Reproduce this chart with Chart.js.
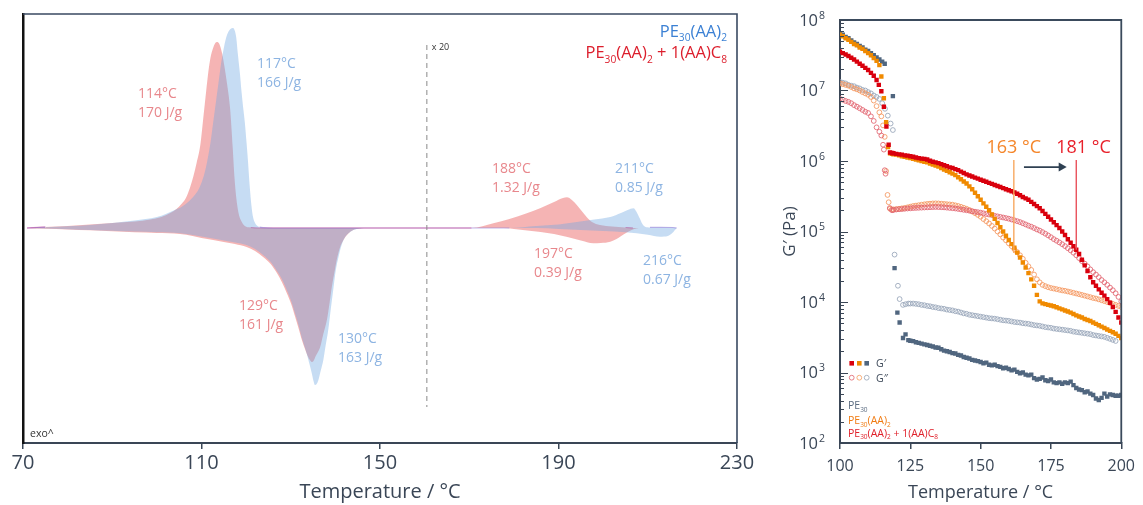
<!DOCTYPE html>
<html><head><meta charset="utf-8">
<script src="https://cdn.jsdelivr.net/npm/chart.js@4.4.1/dist/chart.umd.min.js"></script>
<style>
html,body{margin:0;padding:0;background:#fff;}
#wrap{position:relative;width:1143px;height:505px;overflow:hidden;}
canvas{position:absolute;top:0;}
</style></head><body>
<div id="wrap">
<canvas id="c1" width="760" height="505" style="left:0;width:760px;height:505px"></canvas>
<canvas id="c2" width="383" height="505" style="left:760px;width:383px;height:505px"></canvas>
</div>
<script>
const FAM = "'Open Sans', 'DejaVu Sans', sans-serif";
const AXIS = '#3a4656';

/* ---------- DSC (left) ---------- */
const dscXTicks = [70, 110, 150, 190, 230];
const blueExoT = [70.9,75,80,85,90,95,100,102,104,105.5,107,108.5,109.5,110.5,111.2,112,112.6,113.2,113.8,114.4,115,115.5,116,116.5,117,117.4,117.8,118.1,118.6,119,119.4,119.7,120.1,120.4,120.8,121.2,121.5,121.9,122.3,123,124,126,160,175,179,185,190,194.1,198,201.6,204,205.5,206.8,207.5,208.2,208.8,209.4,210.5,215.6,216.5];
const blueExoY = [0,0.8,1.8,3,5,7.5,11,14,18,21,26,33,40,52,65,85,105,125,145,165,180,190,196,199,200,198,190,176,155,135,118,106,85,68,42,22,12,6,3,1,0.3,0,0,0,0,2,3.5,6,8.5,11,15,18,19.7,16,9.7,4,1.3,0.6,0.5,0];
const blueEndoT = [70.9,75,80,85,90,95,100,105.2,108,110,112.6,115,117.5,120.1,122,123.8,125.5,126.9,128,129.1,130.1,131,131.8,132.5,133.2,133.9,134.7,135.1,135.4,135.8,136.2,136.7,137.3,137.8,138.4,139,139.6,140.1,140.7,141.4,142.2,143.3,144.8,147,185,190,195,200,205,207.5,210,212.8,214.5,215.5,216.5];
const blueEndoY = [0,-0.6,-1.2,-2,-2.8,-3.6,-4.3,-5.3,-7,-8.5,-10.5,-12.5,-14.5,-17,-21,-27,-34,-43,-51,-62,-73,-86,-98,-110,-120,-131,-145,-153,-157,-156,-152,-143,-132,-118,-102,-80,-59,-42,-29,-17,-9,-4,-1,0,0,-1,-2,-3,-4.3,-5.3,-6.8,-8.7,-8,-5,0];
const redExoT = [70.9,75,80,85,90,95,98.5,101,103,104.4,105.5,106.5,107.4,108.2,108.9,109.7,110.4,111,111.5,112,112.6,113.1,113.5,114,114.6,115.2,115.7,116.4,117,117.4,117.8,118.3,118.8,119.7,121,123,170.5,175.4,179,182.9,186,189,191,191.9,193,194.1,195.2,196.3,197.5,199.3,202,205,206.7];
const redExoY = [0,1,2,3.5,5,6.5,8.5,11,15,19,24,30,40,52,65,82,110,135,155,170,180,185,186,184,175,160,145,120,80,50,30,15,8,2,0.5,0,0,4.7,9,14.7,20,26,30,30.7,28,23,17,11,6,3,1.5,0.5,0];
const redEndoT = [70.9,75,80,85,90,95,100,105.2,108,110,112.6,115,117.5,120.1,122,123.8,125.5,126.9,128,129.1,130.1,131,131.8,132.5,133.2,133.9,134.3,134.7,135.1,135.6,136.1,136.6,137.3,138.1,138.7,139.2,139.8,140.3,141,141.8,142.8,144,145.5,147,177.6,180,183,186,189,192,195,197.8,199.5,201.6,203,203.8,205.5,206.8,208];
const redEndoY = [0,-0.8,-1.5,-2.3,-3.3,-4.3,-5,-6,-8,-10,-12,-14,-16,-19,-23,-29,-36,-45,-54,-65,-76,-89,-101,-112,-121,-129,-132,-134,-133,-128,-124,-119,-106,-92,-75,-59,-44,-32,-20,-12,-6,-2,-0.5,0,0,-1,-2.5,-4,-6,-9,-12.5,-15.3,-15,-13.7,-11,-8.7,-4,-1.3,0];

const noteLine1 = ['117°C','114°C','129°C','130°C','188°C','211°C','197°C','216°C'];
const noteLine2 = ['166 J/g','170 J/g','161 J/g','163 J/g','1.32 J/g','0.85 J/g','0.39 J/g','0.67 J/g'];
const noteT = [122.44, 95.77, 118.40, 140.59, 175.10, 202.66, 184.51, 208.94];
const noteV = [164, 134, -78, -111, 59, 59, -26, -33];
const noteSeries = ['b','r','r','b','r','b','r','b'];
const dscLegend = ['PE_{30}(AA)_{2}', 'PE_{30}(AA)_{2} + 1(AA)C_{8}'];
const zoomT = 160.5, zoomTop = 183, zoomBottom = -179;

/* ---------- Rheology (right) ---------- */
const gXTicks = [100, 125, 150, 175, 200];
const gMajor = [1e2, 1e3, 1e4, 1e5, 1e6, 1e7, 1e8];
const gTickExp = ['2','3','4','5','6','7','8'];
const T_PLAT = [120,121,122,123,124,125,126,127,128,129,130,131,132,133,134,135,136,137,138,139,140,141,142,143,144,145,146,147,148,149,150,151,152,153,154,155,156,157,158,159,160,161,162,163,164,165,166,167,168,169,170,171,172,173,174,175,176,177,178,179,180,181,182,183,184,185,186,187,188,189,190,191,192,193,194,195,196,197,198,199,200];

// PE30(AA)2 + 1(AA)C8, G'
const c8GpT = [100,101,102,103,104,105,106,107,108,109,110,111,112,113,113.8,114.7,115.6,116.5,117.3,117.8,118.5,119];
const c8Gp = [3.55e7,3.39e7,3.24e7,3.09e7,2.92e7,2.75e7,2.57e7,2.4e7,2.24e7,2.09e7,1.95e7,1.78e7,1.62e7,1.41e7,1.2e7,9.77e6,5.89e6,3.09e6,1.7e6,1.32e6,1.3e6,1.29e6];
const c8GpPlat = [1.26e6,1.24e6,1.23e6,1.2e6,1.19e6,1.17e6,1.15e6,1.12e6,1.1e6,1.08e6,1.07e6,
 1.05e6,1.01e6,9.77e5,9.55e5,9.33e5, 9.02e5,8.71e5,8.41e5,8.13e5,7.94e5, 7.67e5,7.41e5,7.08e5,6.76e5,6.46e5,
 6.24e5,6.03e5,5.82e5,5.62e5,5.43e5, 5.25e5,5.07e5,4.9e5,4.73e5,4.57e5, 4.42e5,4.27e5,4.12e5,3.98e5,3.85e5,
 3.72e5,3.59e5,3.43e5,3.27e5,3.09e5, 2.95e5,2.82e5,2.63e5,2.45e5,2.29e5, 2.14e5,1.95e5,1.78e5,1.62e5,1.48e5,
 1.35e5,1.23e5,1.12e5,1.0e5,8.91e4, 7.76e4,6.92e4,6.17e4,5.5e4,4.79e4, 3.98e4,3.31e4,2.75e4,2.24e4,1.91e4,
 1.7e4,1.51e4,1.35e4,1.23e4,1.1e4, 9.77e3,8.51e3,7.24e3,6.03e3,5.13e3];
// PE30(AA)2, G'
const aaGpT = [100,101,102,103,104,105,106,107,108,109,110,111,112,113,114,114.7,115.6,116.4,117.1,117.8,118.5,119];
const aaGp = [6.17e7,5.89e7,5.5e7,5.25e7,4.9e7,4.57e7,4.37e7,4.07e7,3.89e7,3.63e7,3.39e7,3.16e7,2.88e7,2.63e7,2.29e7,1.58e7,7.76e6,3.55e6,1.58e6,1.29e6,1.26e6,1.24e6];
const aaGpPlat = [1.23e6,1.2e6,1.17e6,1.15e6,1.12e6,1.1e6,1.07e6,1.05e6,1.02e6,1.0e6,9.77e5,
 9.55e5,9.23e5,8.91e5,8.61e5,8.32e5, 7.94e5,7.59e5,7.24e5,6.92e5,6.61e5, 6.31e5,5.89e5,5.5e5,5.13e5,4.79e5,
 4.37e5,3.98e5,3.55e5,3.16e5,2.82e5, 2.51e5,2.24e5,2.0e5,1.74e5,1.51e5, 1.32e5,1.15e5,1.0e5,8.71e4,7.59e4,
 6.61e4,5.89e4,5.01e4,4.27e4,3.63e4, 3.09e4,2.57e4,2.09e4,1.7e4,1.26e4, 1.02e4,9.55e3,9.33e3,9.12e3,8.91e3,
 8.71e3,8.41e3,8.13e3,7.85e3,7.59e3, 7.33e3,7.08e3,6.76e3,6.46e3,6.24e3, 6.03e3,5.75e3,5.56e3,5.37e3,5.13e3,
 4.9e3,4.68e3,4.47e3,4.27e3,4.07e3, 3.89e3,3.72e3,3.55e3,3.31e3,3.09e3];
// PE30, G'
const peGpT = [100,101,102,103,104,105,106,107,108,109,110,111,112,113,114,115,115.9,118.8,119.4,120.4,121.2,122.4,123.3,124.3];
const peGp = [6.46e7,6.17e7,5.75e7,5.5e7,5.13e7,4.79e7,4.57e7,4.27e7,4.07e7,3.8e7,3.63e7,3.39e7,3.16e7,2.95e7,2.75e7,2.57e7,2.4e7,8.32e6,3.02e4,7.08e3,5.13e3,3.09e3,3.47e3,2.88e3];
const peGpPlat = [null,null,null,null,null,2.82e3,2.79e3,2.69e3,2.63e3,2.57e3,2.51e3,
 2.45e3,2.4e3,2.34e3,2.26e3,2.24e3, 2.14e3,2.04e3,2.0e3,1.95e3,1.88e3, 1.86e3,1.78e3,1.74e3,1.66e3,1.62e3,
 1.58e3,1.51e3,1.48e3,1.45e3,1.41e3, 1.35e3,1.38e3,1.29e3,1.26e3,1.29e3, 1.23e3,1.2e3,1.15e3,1.17e3,1.12e3,
 1.07e3,1.1e3,1.02e3,977,1.0e3, 933,912,933,832,794, 813,851,776,759,794,
 724,708,724,692,724, 708,741,661,603,575, 562,525,537,501,479,
 427,407,437,501,457, 490,479,468,468,479];
// PE30(AA)2 + 1(AA)C8, G''
const c8GppT = [100,101,102,103,104,105,106,107,108,109,110,111,112,113,114,114.7,115.3,115.6,115.9,116.2,117.7,118.5,119];
const c8Gpp = [7.6e6,7.4e6,7.1e6,6.9e6,6.6e6,6.2e6,5.9e6,5.6e6,5.3e6,5.0e6,4.8e6,4.3e6,3.7e6,3.0e6,2.6e6,2.3e6,1.7e6,1.45e6,7.4e5,6.6e5,2.15e5,2.0e5,2.02e5];
const c8GppPlat = [2.05e5,2.07e5,2.08e5,2.1e5,2.12e5,2.13e5,2.15e5,2.16e5,2.17e5,2.18e5,2.19e5,
 2.2e5,2.21e5,2.22e5,2.23e5,2.22e5, 2.21e5,2.2e5,2.18e5,2.16e5,2.14e5, 2.12e5,2.09e5,2.06e5,2.03e5,2.0e5,
 1.97e5,1.94e5,1.91e5,1.88e5,1.85e5, 1.81e5,1.77e5,1.74e5,1.71e5,1.67e5, 1.64e5,1.61e5,1.58e5,1.55e5,1.52e5,
 1.48e5,1.44e5,1.4e5,1.36e5,1.31e5, 1.26e5,1.21e5,1.17e5,1.12e5,1.07e5, 1.03e5,9.8e4,9.3e4,8.8e4,8.3e4,
 7.8e4,7.4e4,7.0e4,6.6e4,6.2e4, 5.8e4,5.4e4,5.0e4,4.6e4,4.2e4, 3.8e4,3.5e4,3.2e4,2.9e4,2.65e4,
 2.45e4,2.25e4,2.05e4,1.9e4,1.75e4, 1.6e4,1.47e4,1.33e4,1.18e4,1.02e4];
// PE30(AA)2, G''
const aaGppT = [100,101,102,103,104,105,106,107,108,109,110,111,112,113,114,114.7,115.3,115.9,116.4,116.9,117.3,117.8,118.4,119];
const aaGpp = [1.26e7,1.23e7,1.2e7,1.17e7,1.12e7,1.07e7,1.04e7,1.0e7,9.5e6,9.1e6,8.7e6,8.1e6,7.2e6,6.0e6,4.9e6,4.3e6,3.2e6,2.2e6,7.2e5,3.3e5,2.6e5,2.1e5,2.05e5,2.06e5];
const aaGppPlat = [2.08e5,2.1e5,2.13e5,2.16e5,2.2e5,2.25e5,2.3e5,2.33e5,2.36e5,2.4e5,2.43e5,
 2.46e5,2.48e5,2.5e5,2.51e5,2.5e5, 2.48e5,2.46e5,2.44e5,2.42e5,2.4e5, 2.35e5,2.3e5,2.24e5,2.17e5,2.1e5,
 2.02e5,1.92e5,1.82e5,1.72e5,1.62e5, 1.5e5,1.4e5,1.3e5,1.2e5,1.1e5, 1.0e5,9.1e4,8.2e4,7.5e4,6.8e4,
 6.2e4,5.6e4,5.1e4,4.6e4,4.1e4, 3.6e4,3.2e4,2.85e4,2.45e4,2.1e4, 1.9e4,1.75e4,1.68e4,1.62e4,1.58e4,
 1.55e4,1.52e4,1.49e4,1.46e4,1.44e4, 1.41e4,1.38e4,1.35e4,1.32e4,1.29e4, 1.26e4,1.23e4,1.2e4,1.17e4,1.14e4,
 1.12e4,1.09e4,1.06e4,1.03e4,1.0e4, 9.7e3,9.4e3,9.1e3,8.8e3,8.5e3];
// PE30, G''
const peGppT = [100,101,102,103,104,105,106,107,108,109,110,111,112,113,114,115,116,117,118,118.8,119.4,120.6,121.2,122.4,123.3,124.3];
const peGpp = [1.32e7,1.29e7,1.26e7,1.2e7,1.17e7,1.15e7,1.1e7,1.07e7,1.02e7,1.0e7,9.5e6,9.1e6,8.5e6,8.1e6,7.6e6,6.6e6,5.5e6,4.4e6,3.4e6,2.75e6,4.7e4,1.7e4,1.1e4,9.1e3,9.3e3,9.5e3];
const peGppPlat = [null,null,null,null,null,9.5e3,9.5e3,9.4e3,9.3e3,9.1e3,9.0e3,
 8.8e3,8.7e3,8.5e3,8.4e3,8.2e3, 8.1e3,8.0e3,7.8e3,7.7e3,7.6e3, 7.4e3,7.3e3,7.1e3,6.9e3,6.8e3,
 6.6e3,6.5e3,6.4e3,6.3e3,6.2e3, 6.1e3,6.0e3,5.9e3,5.85e3,5.8e3, 5.7e3,5.6e3,5.5e3,5.45e3,5.4e3,
 5.3e3,5.2e3,5.15e3,5.1e3,5.0e3, 4.95e3,4.9e3,4.8e3,4.7e3,4.65e3, 4.6e3,4.5e3,4.4e3,4.35e3,4.3e3,
 4.2e3,4.15e3,4.1e3,4.05e3,4.0e3, 3.95e3,3.9e3,3.8e3,3.75e3,3.7e3, 3.65e3,3.6e3,3.55e3,3.5e3,3.4e3,
 3.35e3,3.3e3,3.25e3,3.2e3,3.1e3, 3.0e3,2.9e3,2.8e3,null,null];

const markT = [161.8, 184.0];
const markTop = [1.03e6, 1.03e6];
const markBottom = [4.95e4, 5.5e4];
const markLabel = ['163 °C', '181 °C'];
const markLabelT = [161.8, 186.6];
const markLabelV = 1.3e6;
const arrowT = [165.4, 180.6];
const arrowV = 8.2e5;
const rheoLegend = ['PE_{30}', 'PE_{30}(AA)_{2}', 'PE_{30}(AA)_{2} + 1(AA)C_{8}'];

/* ---------- helpers ---------- */
function pts(T, V) {
  const out = [];
  for (let i = 0; i < T.length; i++) if (V[i] !== null && V[i] !== undefined) out.push({x: T[i], y: V[i]});
  return out;
}
function drawRich(ctx, str, x, y, size, color, align) {
  const parts = []; const re = /_\{([^}]*)\}/g; let last = 0, m;
  while ((m = re.exec(str))) {
    if (m.index > last) parts.push({t: str.slice(last, m.index), sub: false});
    parts.push({t: m[1], sub: true}); last = re.lastIndex;
  }
  if (last < str.length) parts.push({t: str.slice(last), sub: false});
  const subSize = size * 0.62;
  let w = 0;
  parts.forEach(p => { ctx.font = (p.sub ? subSize : size) + 'px ' + FAM; p.w = ctx.measureText(p.t).width; w += p.w; });
  let cx = align === 'right' ? x - w : (align === 'center' ? x - w / 2 : x);
  ctx.fillStyle = color; ctx.textAlign = 'left'; ctx.textBaseline = 'alphabetic';
  parts.forEach(p => { ctx.font = (p.sub ? subSize : size) + 'px ' + FAM; ctx.fillText(p.t, cx, p.sub ? y + size * 0.28 : y); cx += p.w; });
}
const segBase = col => ({ borderColor: c => (Math.abs(c.p0.parsed.y) < 1.2 && Math.abs(c.p1.parsed.y) < 1.2) ? col : 'rgba(0,0,0,0)' });

Chart.defaults.font.family = FAM;

/* ---------- left chart ---------- */
const BLUE_FILL = 'rgba(112,167,225,0.4)';
const RED_FILL = 'rgba(234,96,96,0.47)';
const dscDecor = {
  id: 'dscDecor',
  afterDraw(chart) {
    const {ctx, chartArea: ca, scales: {x, y}} = chart;
    ctx.save();
    ctx.strokeStyle = '#3a4a62'; ctx.lineWidth = 1.6;
    ctx.beginPath(); ctx.moveTo(ca.left, ca.top); ctx.lineTo(ca.right, ca.top); ctx.lineTo(ca.right, ca.bottom); ctx.stroke();
    ctx.strokeStyle = '#8a8a8a'; ctx.lineWidth = 1; ctx.setLineDash([5, 4]);
    const zx = x.getPixelForValue(zoomT);
    ctx.beginPath(); ctx.moveTo(zx, y.getPixelForValue(zoomTop)); ctx.lineTo(zx, y.getPixelForValue(zoomBottom)); ctx.stroke();
    ctx.setLineDash([]);
    ctx.fillStyle = '#333'; ctx.font = '9px ' + FAM; ctx.textAlign = 'left'; ctx.textBaseline = 'alphabetic';
    ctx.fillText('x 20', zx + 5, y.getPixelForValue(zoomTop) + 5);
    ctx.font = '10.5px ' + FAM; ctx.fillText('exo^', ca.left + 7, ca.bottom - 6.5);
    ctx.font = '14px ' + FAM; ctx.textBaseline = 'middle';
    for (let i = 0; i < noteT.length; i++) {
      ctx.fillStyle = noteSeries[i] === 'r' ? '#e8878c' : '#8db4e2';
      const px = x.getPixelForValue(noteT[i]), py = y.getPixelForValue(noteV[i]);
      ctx.fillText(noteLine1[i], px, py);
      ctx.fillText(noteLine2[i], px, py + 19.5);
    }
    drawRich(ctx, dscLegend[0], ca.right - 10, ca.top + 22.5, 16.5, '#3b80d4', 'right');
    drawRich(ctx, dscLegend[1], ca.right - 10, ca.top + 44, 16.5, '#dc1e2c', 'right');
    ctx.restore();
  }
};

new Chart(document.getElementById('c1'), {
  type: 'line',
  data: { datasets: [
    { label: 'PE30(AA)2 exo', data: pts(blueExoT, blueExoY), fill: 'origin', backgroundColor: BLUE_FILL, borderColor: 'rgba(0,0,0,0)', borderWidth: 1.2, segment: segBase('rgba(140,120,215,0.55)') },
    { label: 'PE30(AA)2 endo', data: pts(blueEndoT, blueEndoY), fill: 'origin', backgroundColor: BLUE_FILL, borderColor: 'rgba(0,0,0,0)', borderWidth: 1 },
    { label: 'PE30(AA)2+1(AA)C8 exo', data: pts(redExoT, redExoY), fill: 'origin', backgroundColor: RED_FILL, borderColor: 'rgba(0,0,0,0)', borderWidth: 1.2, segment: segBase('rgba(232,80,140,0.75)') },
    { label: 'PE30(AA)2+1(AA)C8 endo', data: pts(redEndoT, redEndoY), fill: 'origin', backgroundColor: RED_FILL, borderColor: 'rgba(0,0,0,0)', borderWidth: 1 }
  ]},
  options: {
    responsive: false, animation: false, events: [], devicePixelRatio: 1,
    layout: { padding: { left: 23, right: 23, top: 14, bottom: 0 } },
    elements: { point: { radius: 0 }, line: { cubicInterpolationMode: 'monotone' } },
    plugins: { legend: { display: false }, tooltip: { enabled: false } },
    scales: {
      x: { type: 'linear', min: 70, max: 230,
        afterBuildTicks: s => { s.ticks = dscXTicks.map(v => ({ value: v })); },
        afterFit: s => { s.height = 62; },
        ticks: { font: { size: 20 }, color: AXIS, padding: 2, maxRotation: 0, autoSkip: false },
        grid: { drawOnChartArea: false, tickLength: 6, color: AXIS, lineWidth: 1.5 },
        border: { color: AXIS, width: 2 },
        title: { display: true, text: 'Temperature / °C', font: { size: 20 }, color: AXIS, padding: { top: 0, bottom: 1 } } },
      y: { min: -215, max: 214,
        afterFit: s => { s.width = 0; },
        ticks: { display: false }, grid: { display: false },
        border: { color: '#111', width: 2.5 } }
    }
  },
  plugins: [dscDecor]
});

/* ---------- right chart ---------- */
const rheoDecor = {
  id: 'rheoDecor',
  afterDraw(chart) {
    const {ctx, chartArea: ca, scales: {x, y}} = chart;
    ctx.save();
    ctx.strokeStyle = '#3a4a5c'; ctx.lineWidth = 1.8;
    ctx.beginPath(); ctx.moveTo(ca.left, ca.top); ctx.lineTo(ca.right, ca.top); ctx.lineTo(ca.right, ca.bottom); ctx.stroke();
    ctx.strokeStyle = AXIS; ctx.lineWidth = 1.2;
    ctx.beginPath();
    y.ticks.forEach(t => {
      const py = Math.round(y.getPixelForValue(t.value)) + 0.5;
      const major = gMajor.includes(t.value);
      ctx.moveTo(ca.left, py); ctx.lineTo(ca.left + (major ? 8 : 4), py);
    });
    ctx.stroke();
    ctx.fillStyle = AXIS; ctx.textBaseline = 'alphabetic';
    gMajor.forEach((v, i) => {
      const py = y.getPixelForValue(v);
      ctx.font = '16.5px ' + FAM; ctx.textAlign = 'right';
      ctx.fillText('10', ca.left - 22, py + 5.5);
      ctx.font = '10.5px ' + FAM; ctx.textAlign = 'left';
      ctx.fillText(gTickExp[i], ca.left - 21, py - 1.5);
    });
    const lineCols = ['#f7a860', '#e9525c'];
    const textCols = ['#f5862a', '#e8202a'];
    for (let i = 0; i < markT.length; i++) {
      const px = x.getPixelForValue(markT[i]);
      ctx.strokeStyle = lineCols[i]; ctx.lineWidth = 1.4;
      ctx.beginPath(); ctx.moveTo(px, y.getPixelForValue(markTop[i])); ctx.lineTo(px, y.getPixelForValue(markBottom[i])); ctx.stroke();
      ctx.fillStyle = textCols[i]; ctx.font = '18px ' + FAM; ctx.textAlign = 'center'; ctx.textBaseline = 'alphabetic';
      ctx.fillText(markLabel[i], x.getPixelForValue(markLabelT[i]), y.getPixelForValue(markLabelV));
    }
    const ax0 = x.getPixelForValue(arrowT[0]), ax1 = x.getPixelForValue(arrowT[1]), ay = y.getPixelForValue(arrowV);
    ctx.strokeStyle = '#2f4052'; ctx.fillStyle = '#2f4052'; ctx.lineWidth = 1.8;
    ctx.beginPath(); ctx.moveTo(ax0, ay); ctx.lineTo(ax1 - 6, ay); ctx.stroke();
    ctx.beginPath(); ctx.moveTo(ax1, ay); ctx.lineTo(ax1 - 8, ay - 4.5); ctx.lineTo(ax1 - 8, ay + 4.5); ctx.closePath(); ctx.fill();
    const sq = ['#d9000d', '#f08a00', '#50667f'];
    const ci = ['#e57d86', '#f6ae7a', '#a9b4c3'];
    const lx = [ca.left + 11.7, ca.left + 19.3, ca.left + 26.7];
    for (let i = 0; i < 3; i++) {
      ctx.fillStyle = sq[i]; ctx.fillRect(lx[i] - 2.3, 363.3 - 2.3, 4.6, 4.6);
      ctx.strokeStyle = ci[i]; ctx.lineWidth = 1;
      ctx.beginPath(); ctx.arc(lx[i], 377.7, 2.4, 0, Math.PI * 2); ctx.stroke();
    }
    ctx.fillStyle = '#3a4656'; ctx.font = '10.5px ' + FAM; ctx.textAlign = 'left'; ctx.textBaseline = 'alphabetic';
    ctx.fillText('G′', ca.left + 36, 367);
    ctx.fillText('G″', ca.left + 36, 382);
    drawRich(ctx, rheoLegend[0], ca.left + 8, 409, 10.5, '#5a6b80', 'left');
    drawRich(ctx, rheoLegend[1], ca.left + 8, 424, 10.5, '#f07b12', 'left');
    drawRich(ctx, rheoLegend[2], ca.left + 8, 436.5, 10.5, '#e0202a', 'left');
    ctx.restore();
  }
};

const sqDs = (label, T, V, col) => ({ label, data: pts(T, V), pointStyle: 'rect', pointRadius: 3.1, backgroundColor: col, borderColor: col, borderWidth: 0, showLine: false });
const ciDs = (label, T, V, col) => ({ label, data: pts(T, V), pointStyle: 'circle', pointRadius: 2.4, backgroundColor: 'rgba(255,255,255,0)', borderColor: col, borderWidth: 1, showLine: false });

new Chart(document.getElementById('c2'), {
  type: 'scatter',
  data: { datasets: [
    sqDs("PE30(AA)2 + 1(AA)C8 G'", c8GpT.concat(T_PLAT), c8Gp.concat(c8GpPlat), '#d9000d'),
    sqDs("PE30(AA)2 G'", aaGpT.concat(T_PLAT), aaGp.concat(aaGpPlat), '#f08a00'),
    sqDs("PE30 G'", peGpT.concat(T_PLAT), peGp.concat(peGpPlat), '#50667f'),
    ciDs("PE30(AA)2 + 1(AA)C8 G''", c8GppT.concat(T_PLAT), c8Gpp.concat(c8GppPlat), 'rgba(226,100,112,0.85)'),
    ciDs("PE30(AA)2 G''", aaGppT.concat(T_PLAT), aaGpp.concat(aaGppPlat), 'rgba(245,150,95,0.85)'),
    ciDs("PE30 G''", peGppT.concat(T_PLAT), peGpp.concat(peGppPlat), 'rgba(150,165,185,0.85)')
  ]},
  options: {
    responsive: false, animation: false, events: [], devicePixelRatio: 1,
    layout: { padding: { left: 0, right: 20, top: 20, bottom: 0 } },
    plugins: { legend: { display: false }, tooltip: { enabled: false } },
    scales: {
      x: { type: 'linear', min: 100, max: 200,
        afterBuildTicks: s => { s.ticks = gXTicks.map(v => ({ value: v })); },
        afterFit: s => { s.height = 62; },
        ticks: { font: { size: 16 }, color: AXIS, padding: 8, maxRotation: 0, autoSkip: false },
        grid: { drawOnChartArea: false, tickLength: 6, color: AXIS, lineWidth: 1.5 },
        border: { color: AXIS, width: 2 },
        title: { display: true, text: 'Temperature / °C', font: { size: 18 }, color: AXIS, padding: { top: 0, bottom: 1 } } },
      y: { type: 'logarithmic', min: 1e2, max: 1e8,
        afterBuildTicks: s => {
          const t = [];
          gMajor.forEach((m, i) => { t.push({ value: m, major: true }); if (i < gMajor.length - 1) for (let k = 2; k <= 9; k++) t.push({ value: k * m }); });
          s.ticks = t;
        },
        afterFit: s => { s.width = 80; },
        ticks: { display: false, autoSkip: false }, grid: { display: false },
        border: { color: AXIS, width: 2 },
        title: { display: true, text: 'G′ (Pa)', font: { size: 17 }, color: AXIS, padding: { top: 20, bottom: 0 } } }
    }
  },
  plugins: [rheoDecor]
});
</script>
</body></html>
